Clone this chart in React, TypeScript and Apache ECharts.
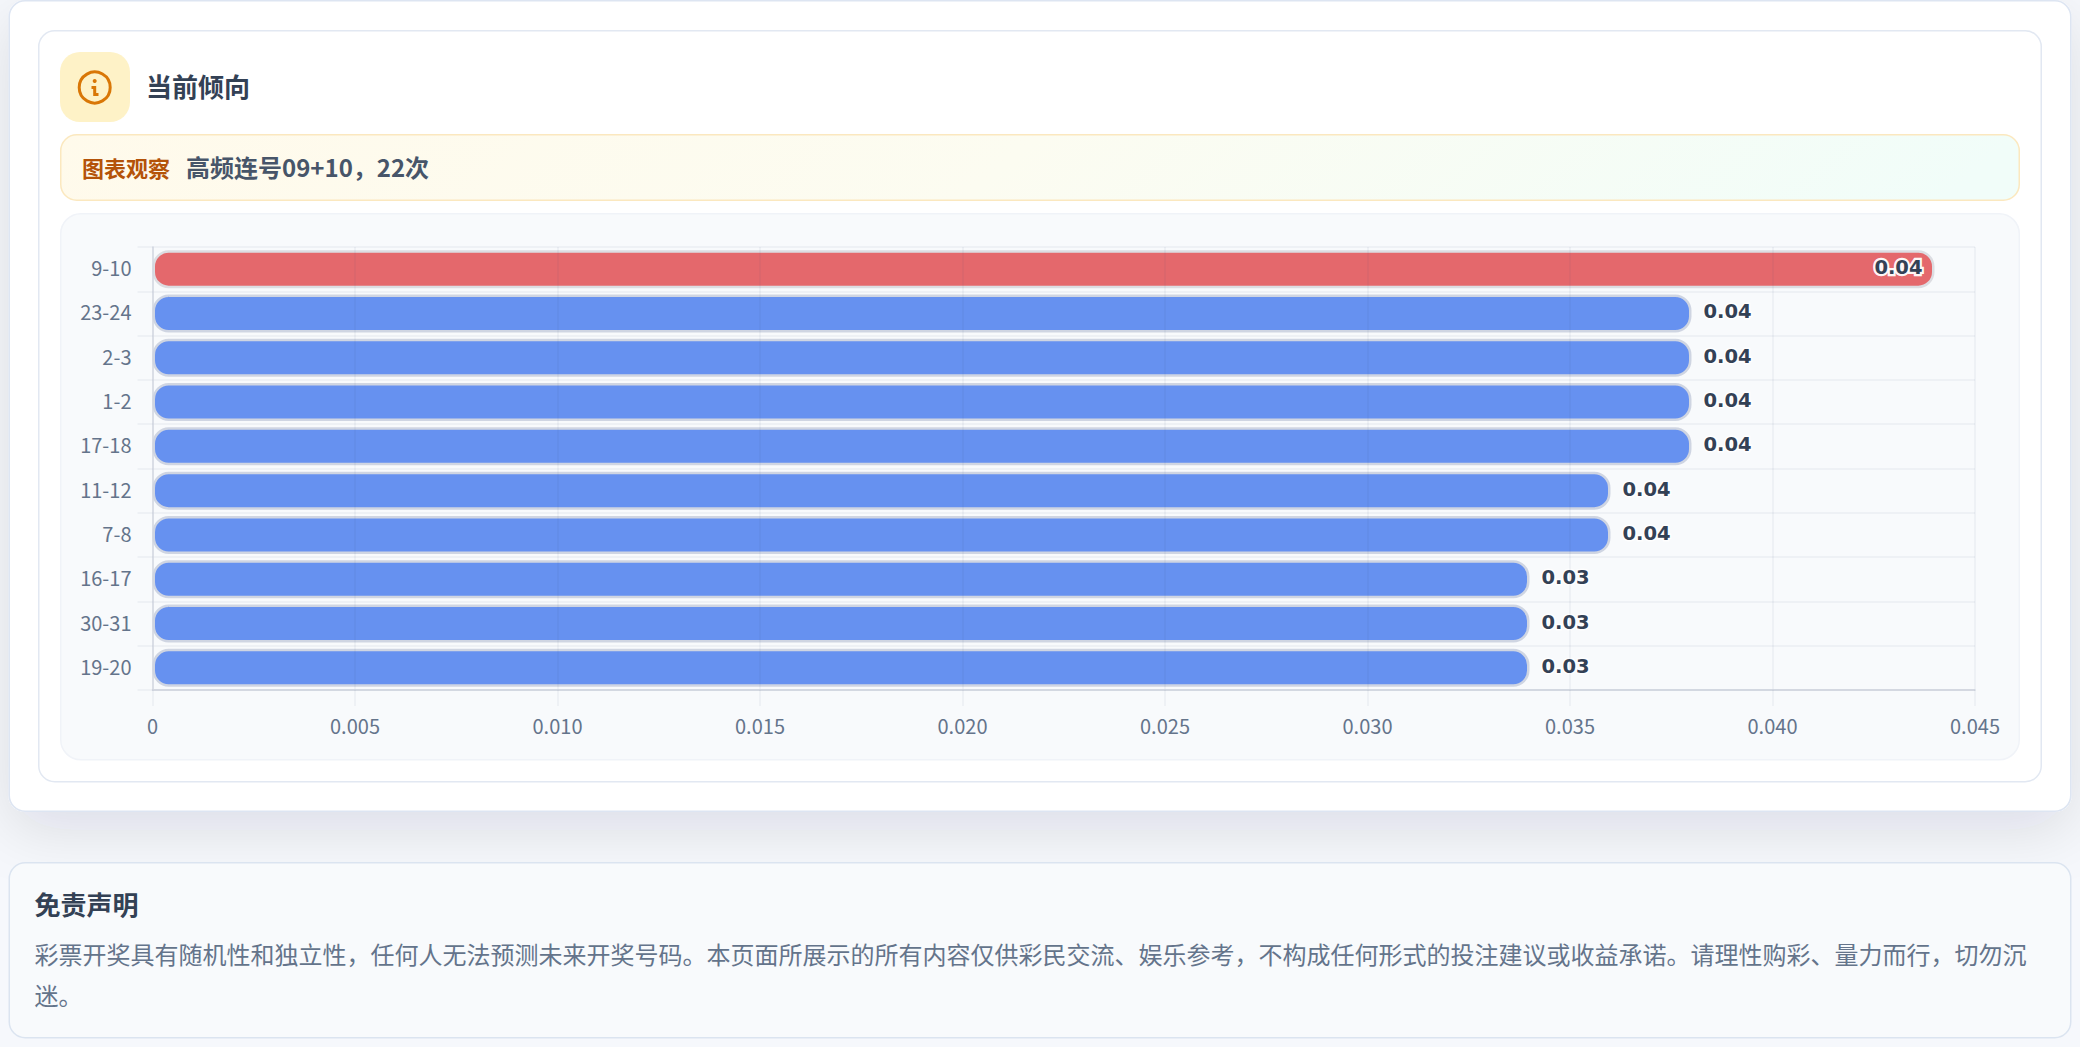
import React, { useEffect, useRef } from "react";
import * as echarts from "echarts";

const pairs = ["9-10", "23-24", "2-3", "1-2", "17-18", "11-12", "7-8", "16-17", "30-31", "19-20"];
const shares = [0.044, 0.038, 0.038, 0.038, 0.038, 0.036, 0.036, 0.034, 0.034, 0.034];
const highlightIndex = 0;

const titleText = "当前倾向";
const observeLabel = "图表观察";
const observeText = "高频连号09+10，22次";
const disclaimerTitle = "免责声明";
const disclaimerBody =
  "彩票开奖具有随机性和独立性，任何人无法预测未来开奖号码。本页面所展示的所有内容仅供彩民交流、娱乐参考，不构成任何形式的投注建议或收益承诺。请理性购彩、量力而行，切勿沉\n迷。";

const CJK = '"Noto Sans CJK SC", "Noto Sans", sans-serif';
const card = (x: number, y: number, width: number, height: number, r: number, fill: any, stroke: string, lineWidth: number, extra: any = {}) => ({
  type: "rect",
  z: -10,
  silent: true,
  shape: { x, y, width, height, r },
  style: { fill, stroke, lineWidth, ...extra },
});
const label = (x: number, y: number, text: string, fill: string, font: string, extra: any = {}) => ({
  type: "text",
  z: -5,
  silent: true,
  style: { x, y, text, fill, font, textVerticalAlign: "middle", ...extra },
});

export default function App() {
  const ref = useRef<HTMLDivElement>(null);
  useEffect(() => {
    document.body.style.margin = "0";
    document.documentElement.style.overflow = "hidden";
    const chart = echarts.init(ref.current!, undefined, { renderer: "svg" });
    const bannerFill = new echarts.graphic.LinearGradient(0, 0, 1, 0.04, [
      { offset: 0, color: "#fffaeb" },
      { offset: 0.5, color: "#fcfcf1" },
      { offset: 1, color: "#f1fdf9" },
    ]);
    const lineColor = "rgba(71,85,125,0.07)";
    chart.setOption({
      animation: false,
      backgroundColor: "#f6f8fc",
      graphic: {
        elements: [
          card(9.25, 0.75, 2061.5, 810.5, 16, "#ffffff", "#dde5f2", 1.5, {
            shadowBlur: 60,
            shadowOffsetY: 18,
            shadowColor: "rgba(15,23,42,0.11)",
          }),
          card(38.75, 30.75, 2002.5, 751, 16, "#ffffff", "#e2e8f2", 1.5),
          card(60, 52, 70, 70, 20, "#fef2c7", "none", 0),
          { type: "circle", z: -5, silent: true, shape: { cx: 94.7, cy: 87.5, r: 15.5 }, style: { fill: "none", stroke: "#d97706", lineWidth: 3 } },
          { type: "circle", z: -5, silent: true, shape: { cx: 94.7, cy: 81, r: 2 }, style: { fill: "#d97706" } },
          { type: "polyline", z: -5, silent: true, shape: { points: [[91.5, 87.5], [94.7, 87.5], [94.7, 94.5], [98.5, 94.5]] }, style: { fill: "none", stroke: "#d97706", lineWidth: 3 } },
          label(146, 85.5, titleText, "#334155", `bold 26px ${CJK}`),
          card(60.75, 134.75, 1958.5, 65.5, 16, bannerFill, "#fbe8bf", 1.5),
          label(82, 166.5, observeLabel, "#b45309", `bold 22px ${CJK}`),
          label(186, 166.5, observeText, "#475569", `bold 24px ${CJK}`),
          card(60.75, 213.75, 1958.5, 546, 20, "#f8fafc", "#f0f3f8", 1.5),
          card(9.25, 862.75, 2061.5, 175, 16, "#f8fafc", "#dbe4f0", 1.5),
          label(34.5, 903, disclaimerTitle, "#334155", `bold 26px ${CJK}`),
          label(34.5, 956, disclaimerBody, "#64748b", `24px ${CJK}`, { lineHeight: 41, textVerticalAlign: "top", y: 933 }),
        ],
      },
      grid: { left: 152.5, right: 105, top: 247, bottom: 357, containLabel: false },
      xAxis: {
        type: "value",
        min: 0,
        max: 0.045,
        interval: 0.005,
        z: 5,
        axisLine: { show: true, onZero: false, lineStyle: { color: "#d3d7e0", width: 1.5 } },
        axisTick: { show: true, length: 16, lineStyle: { color: lineColor, width: 1.5 } },
        splitLine: { show: true, lineStyle: { color: lineColor, width: 1.5 } },
        axisLabel: {
          margin: 25,
          color: "#64748b",
          fontSize: 20,
          fontFamily: CJK,
          formatter: (v: number) => (v === 0 ? "0" : v.toFixed(3)),
        },
      },
      yAxis: {
        type: "category",
        inverse: true,
        data: pairs,
        z: 6,
        axisLine: { show: true, onZero: false, lineStyle: { color: "#d3d7e0", width: 1.5 } },
        axisTick: { show: true, length: 15, lineStyle: { color: lineColor, width: 1.5 } },
        splitLine: { show: true, lineStyle: { color: lineColor, width: 1.5 } },
        axisLabel: {
          margin: 21,
          formatter: "{a|{value}}",
          rich: { a: { color: "#64748b", fontSize: 20, fontFamily: CJK, padding: [0, 0, 3, 0] } },
        },
      },
      series: [
        {
          type: "bar",
          z: 2,
          barWidth: 38,
          data: shares.map((value, i) => {
            const hot = i === highlightIndex;
            return {
              value,
              itemStyle: {
                color: hot ? "#e4686c" : "#6691f0",
                borderColor: hot ? "#dcdde2" : "#cfd5e2",
              },
              label: hot
                ? { position: "insideRight", distance: 12, textBorderWidth: 4.5 }
                : { position: "right", distance: 12 },
            };
          }),
          itemStyle: { borderWidth: 2.5, borderRadius: 15 },
          label: {
            show: true,
            fontFamily: '"DejaVu Sans", sans-serif',
            fontWeight: "bold",
            fontSize: 19.5,
            color: "#334155",
            textBorderColor: "rgba(255,255,255,0.95)",
            textBorderWidth: 3,
            offset: [0, -1.5],
            formatter: (p: any) => Number(p.value).toFixed(2),
          },
        },
      ],
    });
    return () => chart.dispose();
  }, []);
  return <div ref={ref} style={{ width: 2080, height: 1047 }} />;
}
